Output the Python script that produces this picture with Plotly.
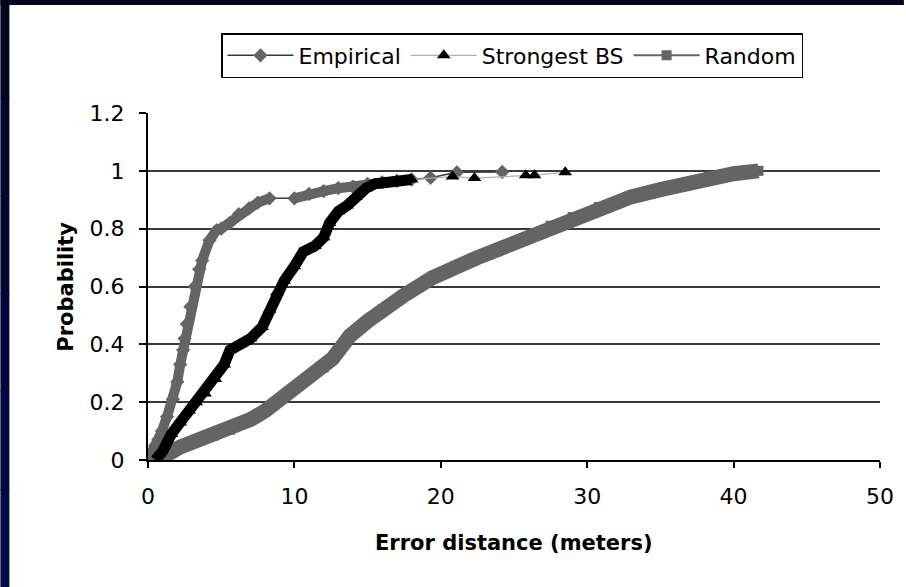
import plotly.graph_objects as go

# ---------------- data ----------------
emp_x = [0, 0.3, 0.5, 0.7, 0.95, 1.3, 1.7, 2.0, 2.2, 2.4, 2.5, 2.65, 2.9, 3.2, 3.5, 3.7, 4.2, 4.7,
         5.0, 5.6, 6.2, 6.9, 7.5, 8.3, 10.0, 11.0, 12.0, 13.0, 14.0, 15.0, 16.0, 17.0, 18.0,
         19.3, 21.1, 24.2]
emp_y = [0, 0.03, 0.05, 0.07, 0.10, 0.15, 0.21, 0.27, 0.33, 0.38, 0.42, 0.47, 0.53, 0.60, 0.66, 0.69, 0.76, 0.795,
         0.80, 0.82, 0.85, 0.87, 0.89, 0.905, 0.905, 0.92, 0.93, 0.94, 0.945, 0.955, 0.96, 0.965, 0.97,
         0.976, 0.995, 0.996]

bs_x = [0.5, 1.0, 1.6, 2.2, 2.8, 3.3, 3.9, 4.6, 5.2, 5.6, 6.3, 7.0, 7.8, 8.3, 8.8, 9.3, 10.0, 10.6,
        11.4, 12.0, 12.4, 13.0, 13.6, 14.2, 14.9, 15.5, 16.2, 17.0, 18.0, 20.8, 22.3, 25.8, 26.4, 28.5]
bs_y = [0, 0.03, 0.09, 0.13, 0.17, 0.20, 0.23, 0.28, 0.33, 0.38, 0.40, 0.42, 0.46, 0.52, 0.58, 0.62, 0.67, 0.72,
        0.74, 0.77, 0.82, 0.86, 0.88, 0.91, 0.94, 0.955, 0.96, 0.965, 0.97, 0.98, 0.975, 0.985, 0.985, 0.995]

rnd_x = [0, 1.0, 2.2, 3.5, 4.5, 5.6, 7.0, 8.0, 9.0, 10.0, 11.0, 12.0, 12.6, 13.2, 13.8, 15.0, 16.0, 17.5,
         19.4, 21.0, 22.5, 24.0, 26.0, 27.5, 29.0, 30.8, 33.0, 35.0, 36.5, 38.3, 40.0, 41.7]
rnd_y = [0, 0.01, 0.045, 0.07, 0.085, 0.105, 0.14, 0.17, 0.21, 0.25, 0.285, 0.32, 0.35, 0.39, 0.43, 0.48, 0.52, 0.57,
         0.63, 0.67, 0.70, 0.73, 0.77, 0.81, 0.84, 0.875, 0.91, 0.935, 0.955, 0.98, 0.99, 1.0]

series_names = ["Empirical", "Strongest BS", "Random"]
x_ticks = [0, 10, 20, 30, 40, 50]
y_ticks = [0, 0.2, 0.4, 0.6, 0.8, 1.0, 1.2]
y_tick_text = ["0", "0.2", "0.4", "0.6", "0.8", "1", "1.2"]

# ---------------- styling ----------------
GRAY = "#646464"
FONT = "DejaVu Sans, Liberation Sans, Arial, sans-serif"
FS = 22
FS_TITLE = 21
W, H = 906, 587
L, R, T, B = 148, 24, 113, 127
PW, PH = W - L - R, H - T - B

fig = go.Figure()

# series traces (thin connecting lines + markers, shown in legend)
fig.add_trace(go.Scatter(x=emp_x, y=emp_y, mode="lines+markers", name=series_names[0],
                         line=dict(color="#383838", width=1.5),
                         marker=dict(symbol="diamond", size=11, color=GRAY)))
fig.add_trace(go.Scatter(x=bs_x, y=bs_y, mode="lines+markers", name=series_names[1],
                         line=dict(color="#b0b0b0", width=1.2),
                         marker=dict(symbol="triangle-up", size=12, color="black")))
fig.add_trace(go.Scatter(x=rnd_x, y=rnd_y, mode="lines+markers", name=series_names[2],
                         line=dict(color=GRAY, width=2),
                         marker=dict(symbol="square", size=10, color=GRAY)))

# dense "bands" formed in the original by many overlapping markers
emp_gap = emp_x.index(8.3) + 1
emp_band_end = emp_x.index(17.0) + 1
band_ex = emp_x[:emp_gap] + [None] + emp_x[emp_gap:emp_band_end]
band_ey = emp_y[:emp_gap] + [None] + emp_y[emp_gap:emp_band_end]
bs_band_end = bs_x.index(18.0) + 1

fig.add_trace(go.Scatter(x=rnd_x, y=rnd_y, mode="lines", showlegend=False, hoverinfo="skip",
                         line=dict(color=GRAY, width=15)))
fig.add_trace(go.Scatter(x=band_ex, y=band_ey, mode="lines", showlegend=False, hoverinfo="skip",
                         line=dict(color=GRAY, width=10), connectgaps=False))
fig.add_trace(go.Scatter(x=bs_x[:bs_band_end], y=bs_y[:bs_band_end], mode="lines", showlegend=False,
                         hoverinfo="skip", line=dict(color="black", width=11)))

# navy slide background strips
def px_to_paper_x(px):
    return (px - L) / PW

def px_to_paper_y(py):
    return (H - B - py) / PH

shapes = [
    dict(type="rect", xref="paper", yref="paper", layer="above", line=dict(width=0),
         x0=px_to_paper_x(0), x1=px_to_paper_x(W), y0=px_to_paper_y(5), y1=px_to_paper_y(0),
         fillcolor="#04041f"),
]
navy = ["#04041f", "#030428", "#020532", "#01063a", "#000742", "#000846"]
seg = H / len(navy)
for i, c in enumerate(navy):
    shapes.append(dict(type="rect", xref="paper", yref="paper", layer="above", line=dict(width=0),
                       x0=px_to_paper_x(0), x1=px_to_paper_x(9),
                       y0=px_to_paper_y((i + 1) * seg + 1), y1=px_to_paper_y(i * seg),
                       fillcolor=c))

fig.update_layout(
    width=W, height=H,
    margin=dict(l=L, r=R, t=T, b=B),
    paper_bgcolor="white", plot_bgcolor="white",
    font=dict(family=FONT, size=FS, color="black"),
    shapes=shapes,
    legend=dict(orientation="h", x=px_to_paper_x(513), y=px_to_paper_y(33),
                xanchor="center", yanchor="top",
                bordercolor="black", borderwidth=1.5, bgcolor="white",
                font=dict(family=FONT, size=FS, color="black"),
                itemwidth=66, traceorder="normal", tracegroupgap=0),
    annotations=[
        dict(text="<b>Probability</b>", xref="paper", yref="paper",
             x=px_to_paper_x(65), y=0.5, textangle=-90, showarrow=False,
             font=dict(family=FONT, size=FS_TITLE, color="black"), xanchor="center", yanchor="middle"),
        dict(text="<b>Error distance (meters)</b>", xref="paper", yref="paper",
             x=px_to_paper_x(515), y=px_to_paper_y(543), showarrow=False,
             font=dict(family=FONT, size=FS_TITLE, color="black"), xanchor="center", yanchor="middle"),
    ],
)

fig.update_xaxes(range=[0, 50], tickvals=x_ticks, ticktext=[str(v) for v in x_ticks],
                 showgrid=False, zeroline=False, showline=True, linecolor="black", linewidth=2,
                 mirror=False, ticks="outside", ticklen=6, tickwidth=1.5, tickcolor="black",
                 ticklabelstandoff=10, tickfont=dict(family=FONT, size=FS))
fig.update_yaxes(range=[0, 1.2], tickvals=y_ticks, ticktext=y_tick_text,
                 showgrid=True, gridcolor="#3a3a3a", gridwidth=1.5, zeroline=False,
                 showline=True, linecolor="black", linewidth=2,
                 ticks="outside", ticklen=7, tickwidth=1.5, tickcolor="black",
                 ticklabelstandoff=10, tickfont=dict(family=FONT, size=FS))

fig.write_html("out.html", config={"displayModeBar": False},
               post_script="document.body.style.margin='0';document.body.style.overflow='hidden';")
